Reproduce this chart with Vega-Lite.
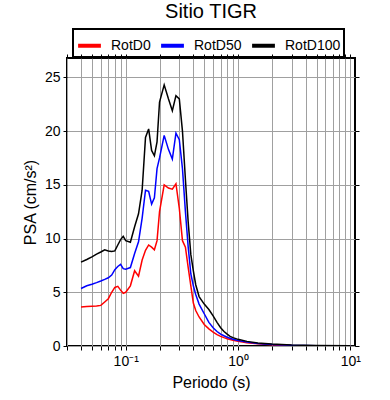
{
  "$schema": "https://vega.github.io/schema/vega-lite/v6.json",
  "width": 288,
  "height": 288,
  "autosize": {"type": "none"},
  "padding": {"left": 67, "top": 58, "right": 35, "bottom": 54},
  "background": "white",
  "title": {"text": "Sitio TIGR", "fontSize": 20, "font": "Liberation Sans", "fontWeight": "normal", "color": "black", "anchor": "middle", "offset": 6},
  "config": {
    "view": {"stroke": "black", "strokeWidth": 2},
    "font": "Liberation Sans",
    "legend": {"strokeColor": "black", "strokeWidth": 2}
  },
  "datasets": {
    "psa": [
      {"T":0.04,"c":"RotD0","v":3.63},{"T":0.045,"c":"RotD0","v":3.68},{"T":0.05,"c":"RotD0","v":3.7},{"T":0.055,"c":"RotD0","v":3.72},{"T":0.06,"c":"RotD0","v":3.78},{"T":0.065,"c":"RotD0","v":4.1},{"T":0.07,"c":"RotD0","v":4.4},{"T":0.075,"c":"RotD0","v":5.0},{"T":0.08,"c":"RotD0","v":5.45},{"T":0.085,"c":"RotD0","v":5.55},{"T":0.09,"c":"RotD0","v":5.2},{"T":0.095,"c":"RotD0","v":4.9},{"T":0.1,"c":"RotD0","v":5.0},{"T":0.11,"c":"RotD0","v":5.6},{"T":0.12,"c":"RotD0","v":7.0},{"T":0.13,"c":"RotD0","v":6.5},{"T":0.14,"c":"RotD0","v":8.0},{"T":0.15,"c":"RotD0","v":8.9},{"T":0.16,"c":"RotD0","v":9.4},{"T":0.17,"c":"RotD0","v":9.2},{"T":0.18,"c":"RotD0","v":8.95},{"T":0.19,"c":"RotD0","v":9.8},{"T":0.2,"c":"RotD0","v":12.5},{"T":0.22,"c":"RotD0","v":15.0},{"T":0.24,"c":"RotD0","v":14.7},{"T":0.26,"c":"RotD0","v":14.6},{"T":0.28,"c":"RotD0","v":15.1},{"T":0.3,"c":"RotD0","v":12.8},{"T":0.32,"c":"RotD0","v":9.8},{"T":0.34,"c":"RotD0","v":9.2},{"T":0.36,"c":"RotD0","v":7.3},{"T":0.38,"c":"RotD0","v":5.6},{"T":0.4,"c":"RotD0","v":4.0},{"T":0.42,"c":"RotD0","v":3.3},{"T":0.45,"c":"RotD0","v":2.7},{"T":0.5,"c":"RotD0","v":2.0},{"T":0.55,"c":"RotD0","v":1.6},{"T":0.6,"c":"RotD0","v":1.3},{"T":0.65,"c":"RotD0","v":1.05},{"T":0.7,"c":"RotD0","v":0.9},{"T":0.75,"c":"RotD0","v":0.78},{"T":0.8,"c":"RotD0","v":0.68},{"T":0.85,"c":"RotD0","v":0.6},{"T":0.9,"c":"RotD0","v":0.53},{"T":1.0,"c":"RotD0","v":0.45},{"T":1.2,"c":"RotD0","v":0.3},{"T":1.5,"c":"RotD0","v":0.2},{"T":2.0,"c":"RotD0","v":0.12},{"T":3.0,"c":"RotD0","v":0.05},{"T":5.0,"c":"RotD0","v":0.02},{"T":10,"c":"RotD0","v":0.01},
      {"T":0.04,"c":"RotD50","v":5.35},{"T":0.045,"c":"RotD50","v":5.6},{"T":0.05,"c":"RotD50","v":5.75},{"T":0.055,"c":"RotD50","v":5.9},{"T":0.06,"c":"RotD50","v":6.05},{"T":0.065,"c":"RotD50","v":6.2},{"T":0.07,"c":"RotD50","v":6.35},{"T":0.075,"c":"RotD50","v":6.6},{"T":0.08,"c":"RotD50","v":7.1},{"T":0.085,"c":"RotD50","v":7.4},{"T":0.09,"c":"RotD50","v":7.6},{"T":0.095,"c":"RotD50","v":7.2},{"T":0.1,"c":"RotD50","v":7.15},{"T":0.11,"c":"RotD50","v":7.3},{"T":0.12,"c":"RotD50","v":8.6},{"T":0.13,"c":"RotD50","v":9.7},{"T":0.14,"c":"RotD50","v":11.9},{"T":0.15,"c":"RotD50","v":14.5},{"T":0.16,"c":"RotD50","v":14.4},{"T":0.17,"c":"RotD50","v":13.2},{"T":0.18,"c":"RotD50","v":13.8},{"T":0.19,"c":"RotD50","v":16.5},{"T":0.2,"c":"RotD50","v":17.5},{"T":0.22,"c":"RotD50","v":19.6},{"T":0.24,"c":"RotD50","v":18.3},{"T":0.26,"c":"RotD50","v":17.4},{"T":0.28,"c":"RotD50","v":19.8},{"T":0.3,"c":"RotD50","v":19.2},{"T":0.32,"c":"RotD50","v":16.5},{"T":0.34,"c":"RotD50","v":12.5},{"T":0.36,"c":"RotD50","v":9.2},{"T":0.38,"c":"RotD50","v":6.7},{"T":0.4,"c":"RotD50","v":5.6},{"T":0.42,"c":"RotD50","v":4.8},{"T":0.45,"c":"RotD50","v":3.9},{"T":0.5,"c":"RotD50","v":3.0},{"T":0.55,"c":"RotD50","v":2.2},{"T":0.6,"c":"RotD50","v":1.7},{"T":0.65,"c":"RotD50","v":1.35},{"T":0.7,"c":"RotD50","v":1.1},{"T":0.75,"c":"RotD50","v":0.95},{"T":0.8,"c":"RotD50","v":0.82},{"T":0.85,"c":"RotD50","v":0.72},{"T":0.9,"c":"RotD50","v":0.63},{"T":1.0,"c":"RotD50","v":0.52},{"T":1.2,"c":"RotD50","v":0.36},{"T":1.5,"c":"RotD50","v":0.24},{"T":2.0,"c":"RotD50","v":0.15},{"T":3.0,"c":"RotD50","v":0.07},{"T":5.0,"c":"RotD50","v":0.03},{"T":10,"c":"RotD50","v":0.01},
      {"T":0.04,"c":"RotD100","v":7.8},{"T":0.045,"c":"RotD100","v":8.05},{"T":0.05,"c":"RotD100","v":8.3},{"T":0.055,"c":"RotD100","v":8.55},{"T":0.06,"c":"RotD100","v":8.75},{"T":0.065,"c":"RotD100","v":8.95},{"T":0.07,"c":"RotD100","v":8.85},{"T":0.075,"c":"RotD100","v":8.8},{"T":0.08,"c":"RotD100","v":8.85},{"T":0.085,"c":"RotD100","v":9.4},{"T":0.09,"c":"RotD100","v":9.9},{"T":0.095,"c":"RotD100","v":10.2},{"T":0.1,"c":"RotD100","v":9.8},{"T":0.11,"c":"RotD100","v":9.65},{"T":0.12,"c":"RotD100","v":11.1},{"T":0.13,"c":"RotD100","v":12.3},{"T":0.14,"c":"RotD100","v":14.5},{"T":0.15,"c":"RotD100","v":19.4},{"T":0.16,"c":"RotD100","v":20.2},{"T":0.17,"c":"RotD100","v":18.2},{"T":0.18,"c":"RotD100","v":17.7},{"T":0.19,"c":"RotD100","v":19.0},{"T":0.2,"c":"RotD100","v":22.7},{"T":0.22,"c":"RotD100","v":24.3},{"T":0.24,"c":"RotD100","v":23.0},{"T":0.26,"c":"RotD100","v":21.9},{"T":0.28,"c":"RotD100","v":23.3},{"T":0.3,"c":"RotD100","v":23.0},{"T":0.32,"c":"RotD100","v":20.0},{"T":0.34,"c":"RotD100","v":15.5},{"T":0.36,"c":"RotD100","v":11.5},{"T":0.38,"c":"RotD100","v":8.5},{"T":0.4,"c":"RotD100","v":7.0},{"T":0.42,"c":"RotD100","v":5.7},{"T":0.45,"c":"RotD100","v":4.6},{"T":0.5,"c":"RotD100","v":3.9},{"T":0.55,"c":"RotD100","v":3.4},{"T":0.6,"c":"RotD100","v":2.8},{"T":0.65,"c":"RotD100","v":2.2},{"T":0.7,"c":"RotD100","v":1.7},{"T":0.75,"c":"RotD100","v":1.35},{"T":0.8,"c":"RotD100","v":1.1},{"T":0.85,"c":"RotD100","v":0.9},{"T":0.9,"c":"RotD100","v":0.78},{"T":1.0,"c":"RotD100","v":0.62},{"T":1.2,"c":"RotD100","v":0.43},{"T":1.5,"c":"RotD100","v":0.28},{"T":2.0,"c":"RotD100","v":0.18},{"T":3.0,"c":"RotD100","v":0.09},{"T":5.0,"c":"RotD100","v":0.04},{"T":10,"c":"RotD100","v":0.015}
    ]
  },
  "data": {"name": "psa"},
  "layer": [
    {
      "mark": {"type": "line", "strokeWidth": 1.5, "clip": true},
      "encoding": {
        "x": {
          "field": "T", "type": "quantitative",
          "scale": {"type": "log", "domain": [0.03, 11], "nice": false},
          "axis": {
            "orient": "bottom",
            "values": [0.03,0.04,0.05,0.06,0.07,0.08,0.09,0.1,0.2,0.3,0.4,0.5,0.6,0.7,0.8,0.9,1,2,3,4,5,6,7,8,9,10],
            "labelExpr": "datum.value == 0.1 ? '10⁻¹' : datum.value == 1 ? '10⁰' : datum.value == 10 ? '10¹' : ''",
            "grid": true, "gridColor": "#a0a0a0", "gridWidth": 1,
            "domain": false, "tickColor": "black", "tickSize": 4, "tickWidth": 1,
            "labelFontSize": 14, "labelColor": "black", "labelPadding": 4, "labelFont": "Liberation Sans",
            "title": "Periodo (s)", "titleFontSize": 16, "titleFontWeight": "normal", "titleColor": "black", "titlePadding": 6, "titleFont": "Liberation Sans"
          }
        },
        "y": {
          "field": "v", "type": "quantitative",
          "scale": {"domain": [0, 26.8], "nice": false, "zero": true},
          "axis": {
            "orient": "left",
            "values": [0,5,10,15,20,25],
            "grid": true, "gridColor": "#a0a0a0", "gridWidth": 1,
            "domain": false, "tickColor": "black", "tickSize": 4, "tickWidth": 1,
            "labelFontSize": 14, "labelColor": "black", "labelPadding": 3, "labelFont": "Liberation Sans",
            "title": "PSA (cm/s²)", "titleFontSize": 16, "titleFontWeight": "normal", "titleColor": "black", "titlePadding": 6, "titleFont": "Liberation Sans"
          }
        },
        "color": {
          "field": "c", "type": "nominal",
          "scale": {"domain": ["RotD0", "RotD50", "RotD100"], "range": ["#ff0000", "#0000ff", "#000000"]},
          "legend": {
            "title": null, "orient": "none", "legendX": 6, "legendY": -29,
            "direction": "horizontal", "symbolType": "stroke", "symbolStrokeWidth": 4, "symbolSize": 520,
            "labelFontSize": 14, "labelFont": "Liberation Sans", "labelColor": "black", "labelOffset": 8,
            "padding": 3, "columnPadding": 2, "strokeColor": "black"
          }
        },
        "order": {"field": "T", "type": "quantitative"}
      }
    },
    {
      "mark": {"type": "line", "strokeOpacity": 0},
      "encoding": {
        "x": {
          "field": "T", "type": "quantitative",
          "scale": {"type": "log", "domain": [0.03, 11], "nice": false},
          "axis": {
            "orient": "top",
            "values": [0.03,0.04,0.05,0.06,0.07,0.08,0.09,0.1,0.2,0.3,0.4,0.5,0.6,0.7,0.8,0.9,1,2,3,4,5,6,7,8,9,10],
            "labels": false, "grid": false, "domain": false, "tickColor": "black", "tickSize": 4, "title": null
          }
        },
        "y": {
          "field": "v", "type": "quantitative",
          "scale": {"domain": [0, 26.8], "nice": false},
          "axis": {
            "orient": "right",
            "values": [0,5,10,15,20,25],
            "labels": false, "grid": false, "domain": false, "tickColor": "black", "tickSize": 4, "title": null
          }
        },
        "detail": {"field": "c", "type": "nominal"}
      }
    }
  ],
  "resolve": {"axis": {"x": "independent", "y": "independent"}}
}
